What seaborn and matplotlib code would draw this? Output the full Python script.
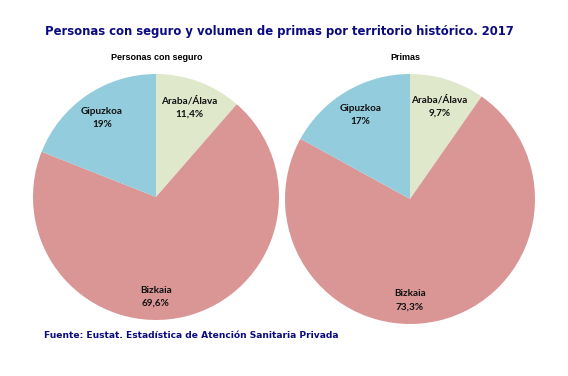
"""
Pie charts: personas con seguro y volumen de primas por territorio histórico (2017).
"""
import numpy as np
import matplotlib
matplotlib.use("Agg")
import matplotlib.pyplot as plt
import seaborn as sns

territorios = ["Araba/Álava", "Bizkaia", "Gipuzkoa"]
personas = [11.4, 69.6, 19.0]
primas = [9.7, 73.3, 17.0]
etiquetas_personas = ["11,4%", "69,6%", "19%"]
etiquetas_primas = ["9,7%", "73,3%", "17%"]
subtitulos = ["Personas con seguro", "Primas"]

colores = ["#E0E8CC", "#D99694", "#93CDDD"]
navy = "#0B0B80"

sns.set_theme(style="white")
plt.rcParams["font.family"] = ["DejaVu Sans"]

fig = plt.figure(figsize=(5.68, 3.76), dpi=100)
fig.patch.set_facecolor("white")

# axes boxes in figure fractions (square in pixels)
boxes = [
    [33 / 568, (376 - 320) / 376, 246 / 568, 246 / 376],
    [285 / 568, (376 - 324) / 376, 250 / 568, 250 / 376],
]


def draw_pie(ax, values, pct_labels):
    wedges, _ = ax.pie(values, colors=colores, startangle=90, counterclock=False,
                       radius=1, wedgeprops=dict(linewidth=0))
    ax.set_xlim(-1, 1)
    ax.set_ylim(-1, 1)
    ax.set_aspect("equal")
    ax.axis("off")
    for w, name, lab, v in zip(wedges, territorios, pct_labels, values):
        mid = np.deg2rad((w.theta1 + w.theta2) / 2)
        r = 0.78
        if v > 50:
            # biggest slice: label sits at the bottom of the pie
            mid = np.deg2rad(-90)
            r = 0.81
        x, y = r * np.cos(mid), r * np.sin(mid)
        ax.text(x, y, f"{name}\n{lab}", ha="center", va="center",
                fontsize=7.2, fontweight="bold", family="Lato",
                color="#111111", linespacing=1.6)


for box, vals, labs in zip(boxes, [personas, primas],
                           [etiquetas_personas, etiquetas_primas]):
    ax = fig.add_axes(box)
    draw_pie(ax, vals, labs)

fig.text(157 / 568, 1 - 58 / 376, subtitulos[0], ha="center", va="center",
         fontsize=6.5, fontweight="bold", family="Liberation Sans", color="black")
fig.text(405 / 568, 1 - 58 / 376, subtitulos[1], ha="center", va="center",
         fontsize=6.5, fontweight="bold", family="Liberation Sans", color="black")

fig.text(279 / 568, 1 - 32 / 376,
         "Personas con seguro y volumen de primas por territorio histórico. 2017",
         ha="center", va="center", fontsize=8.4, fontweight="bold", color=navy)
fig.text(44 / 568, 1 - 336 / 376,
         "Fuente: Eustat. Estadística de Atención Sanitaria Privada",
         ha="left", va="center", fontsize=6.6, fontweight="bold", color=navy)

fig.savefig("out.png", dpi=100, facecolor="white")
